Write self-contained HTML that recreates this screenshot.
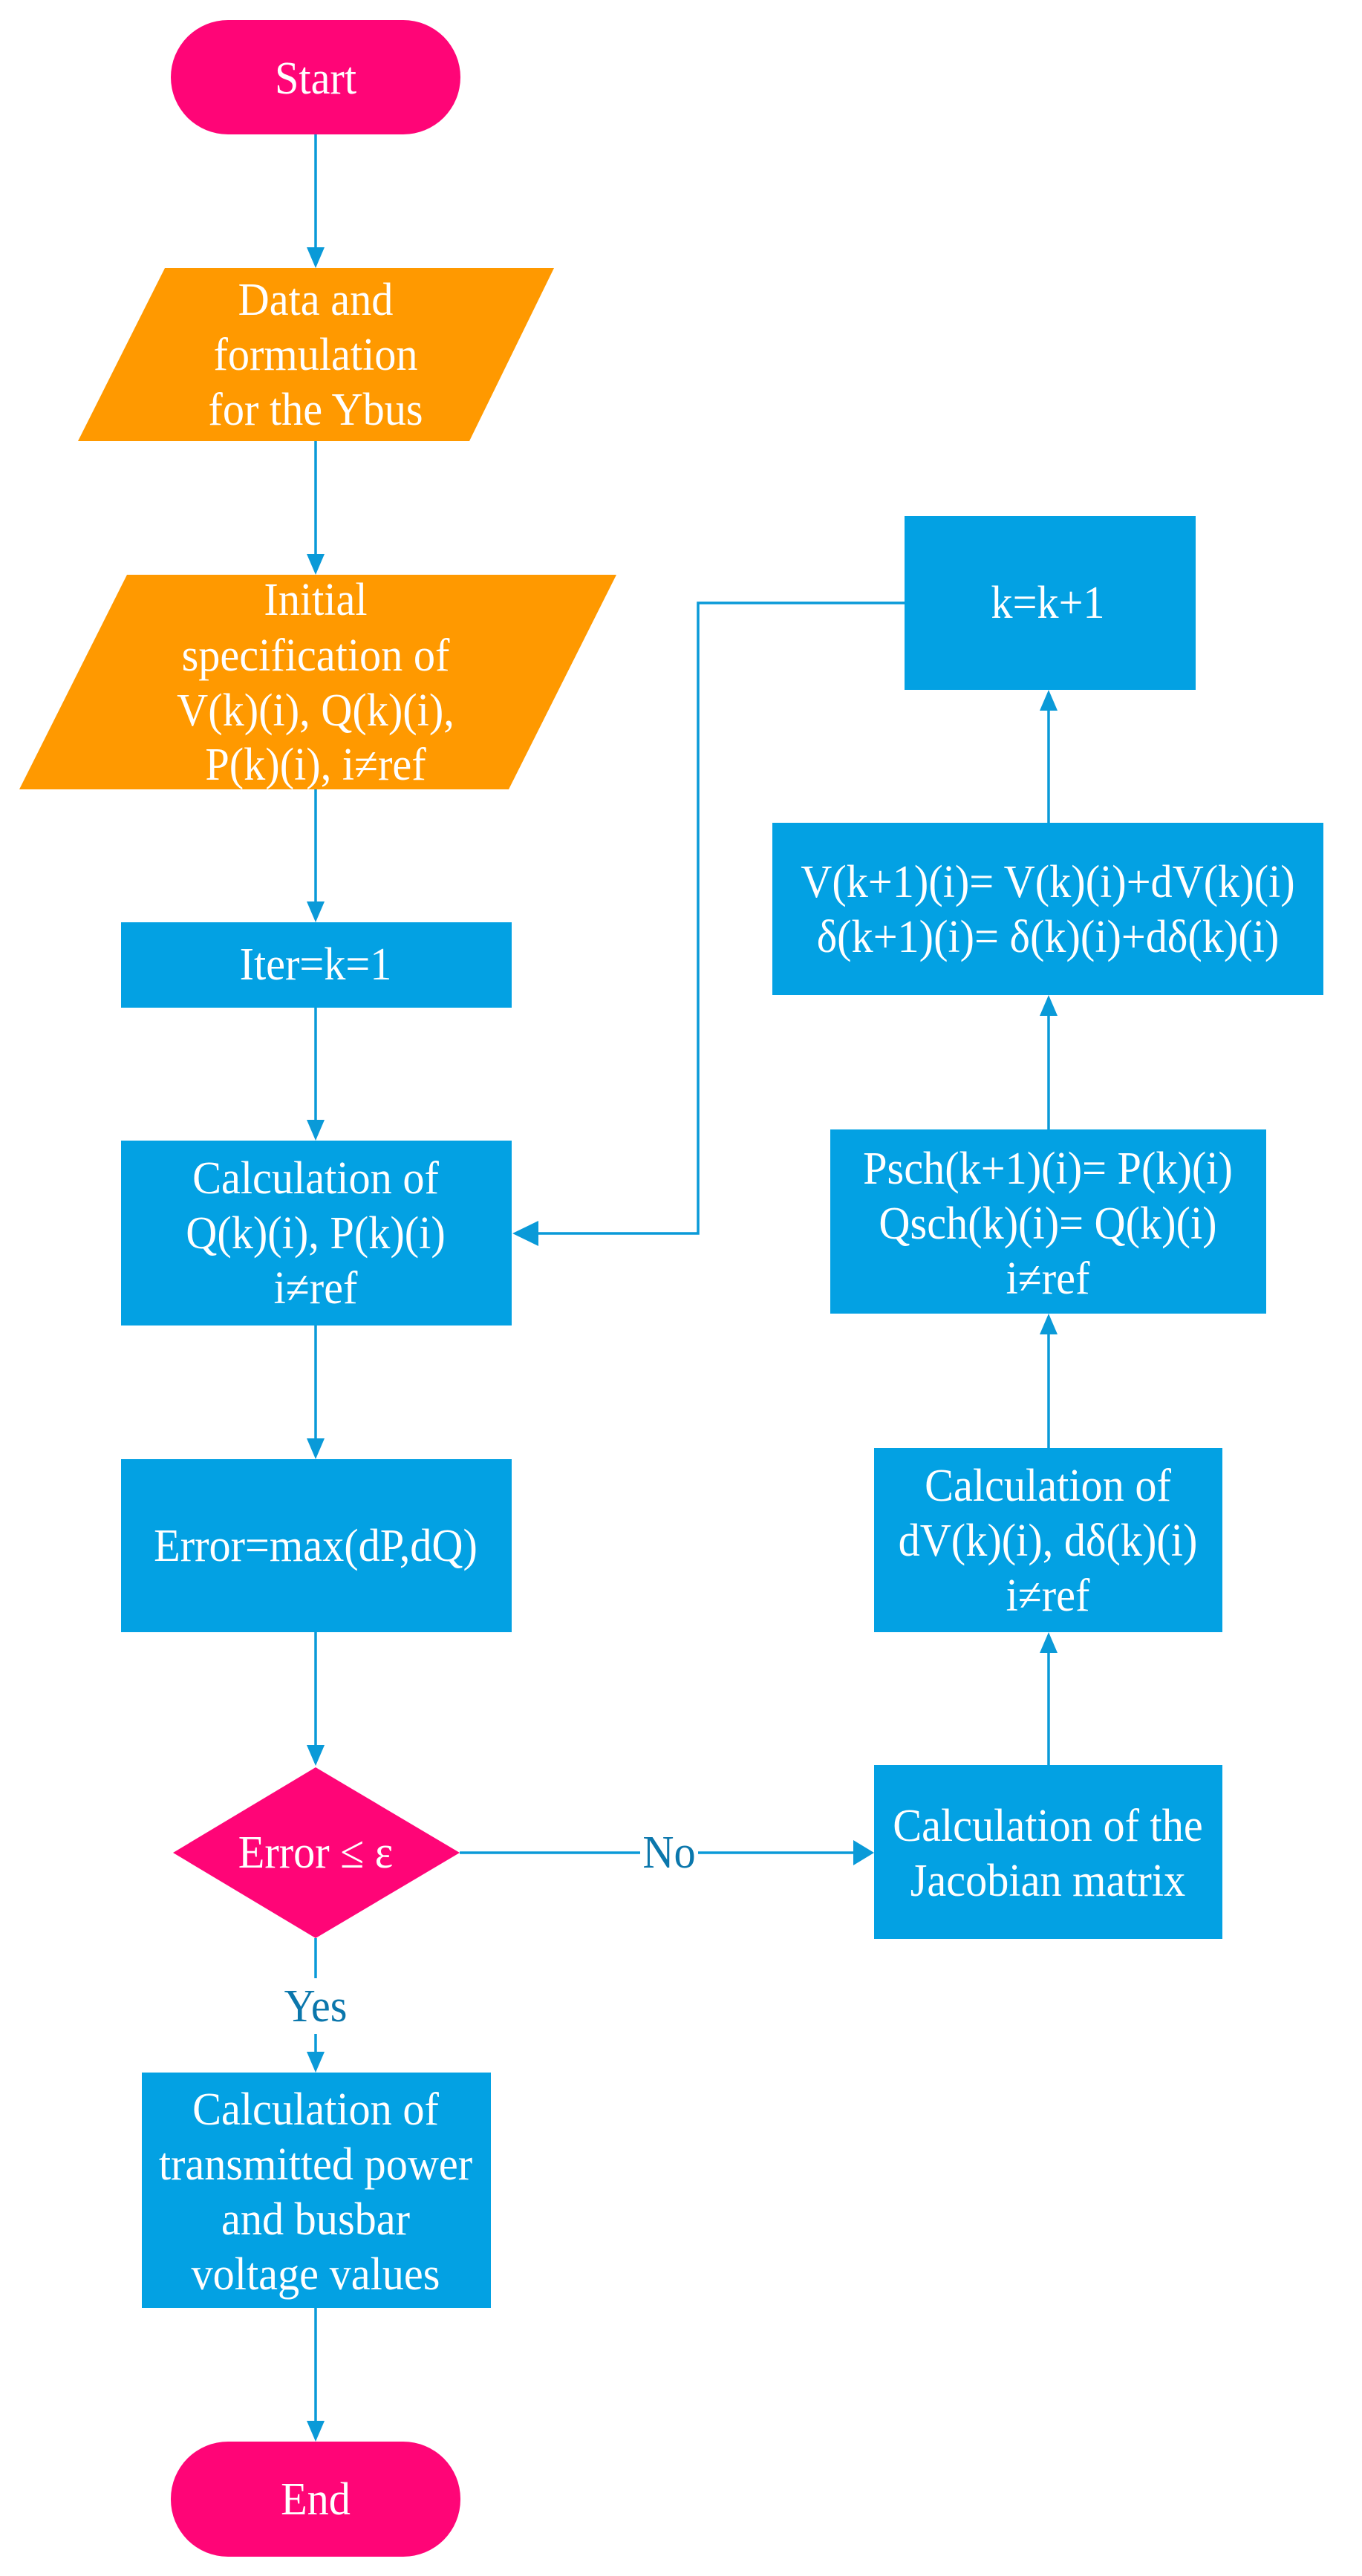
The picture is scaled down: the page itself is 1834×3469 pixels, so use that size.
<!DOCTYPE html>
<html><head><meta charset="utf-8"><style>html,body{margin:0;padding:0;background:#fff}svg{display:block}text{font-family:"Liberation Serif",serif;font-size:62px;fill:#fff;text-anchor:middle}.lb{fill:#0B77AC}</style></head><body>
<svg width="1834" height="3469" viewBox="0 0 1834 3469" xmlns="http://www.w3.org/2000/svg">
<g fill="none" stroke="#0A9AD8" stroke-width="3.5">
<path d="M425 181V335M425 594V748M425 1063V1216M425 1357V1510M425 1785V1939M425 2198V2352M425 2610V2664M425 2739V2765M425 3108V3262"/>
<path d="M1412 2377V2224M1412 1950V1795M1412 1521V1366M1412 1108V955"/>
<path d="M1218 812H940V1661H716"/>
<path d="M619 2495H862M940 2495H1151"/>
</g>
<g fill="#0A9AD8">
<path d="M413 333L437 333L425 361Z"/><path d="M413 746L437 746L425 774Z"/><path d="M413 1214L437 1214L425 1242Z"/><path d="M413 1508L437 1508L425 1536Z"/><path d="M413 1937L437 1937L425 1965Z"/><path d="M413 2350L437 2350L425 2378Z"/><path d="M413 2763L437 2763L425 2791Z"/><path d="M413 3260L437 3260L425 3288Z"/>
<path d="M1400 2226L1424 2226L1412 2198Z"/><path d="M1400 1797L1424 1797L1412 1769Z"/><path d="M1400 1368L1424 1368L1412 1340Z"/><path d="M1400 957L1424 957L1412 929Z"/>
<path d="M725 1644L725 1678L690 1661Z"/><path d="M1149 2478L1149 2512L1177 2495Z"/>
</g>
<rect x="230" y="27" width="390" height="154" rx="77" fill="#FF0577"/>
<rect x="230" y="3288" width="390" height="155" rx="77" fill="#FF0577"/>
<polygon points="222,361 746,361 632,594 105,594" fill="#FF9900"/>
<polygon points="171,774 830,774 685,1063 26,1063" fill="#FF9900"/>
<g fill="#03A1E3">
<rect x="163" y="1242" width="526" height="115"/>
<rect x="163" y="1536" width="526" height="249"/>
<rect x="163" y="1965" width="526" height="233"/>
<rect x="191" y="2791" width="470" height="317"/>
<rect x="1218" y="695" width="392" height="234"/>
<rect x="1040" y="1108" width="742" height="232"/>
<rect x="1118" y="1521" width="587" height="248"/>
<rect x="1177" y="1950" width="469" height="248"/>
<rect x="1177" y="2377" width="469" height="234"/>
</g>
<polygon points="425,2380 619,2495 425,2610 233,2495" fill="#FF0577"/>
<g transform="translate(425 0) scale(0.94 1)">
<text x="0" y="126">Start</text>
<text x="0" y="424">Data and</text><text x="0" y="498">formulation</text><text x="0" y="572">for the Ybus</text>
<text x="0" y="828">Initial</text><text x="0" y="903">specification of</text><text x="0" y="977">V(k)(i), Q(k)(i),</text><text x="0" y="1050">P(k)(i), i≠ref</text>
<text x="0" y="1319">Iter=k=1</text>
<text x="0" y="1607">Calculation of</text><text x="0" y="1681">Q(k)(i), P(k)(i)</text><text x="0" y="1755">i≠ref</text>
<text x="0" y="2102">Error=max(dP,dQ)</text>
<text x="0" y="2515">Error ≤ ε</text>
<text x="0" y="2722" class="lb">Yes</text>
<text x="0" y="2861">Calculation of</text><text x="0" y="2935">transmitted power</text><text x="0" y="3009">and busbar</text><text x="0" y="3083">voltage values</text>
<text x="0" y="3386">End</text>
</g>
<g transform="translate(1411 0) scale(0.94 1)">
<text x="0" y="832">k=k+1</text>
<text x="0" y="1208">V(k+1)(i)= V(k)(i)+dV(k)(i)</text><text x="0" y="1282">δ(k+1)(i)= δ(k)(i)+dδ(k)(i)</text>
<text x="0" y="1594">Psch(k+1)(i)= P(k)(i)</text><text x="0" y="1668">Qsch(k)(i)= Q(k)(i)</text><text x="0" y="1742">i≠ref</text>
<text x="0" y="2021">Calculation of</text><text x="0" y="2095">dV(k)(i), dδ(k)(i)</text><text x="0" y="2169">i≠ref</text>
<text x="0" y="2479">Calculation of the</text><text x="0" y="2553">Jacobian matrix</text>
</g>
<g transform="translate(901 0) scale(0.94 1)"><text x="0" y="2515" class="lb">No</text></g>
</svg>
</body></html>
